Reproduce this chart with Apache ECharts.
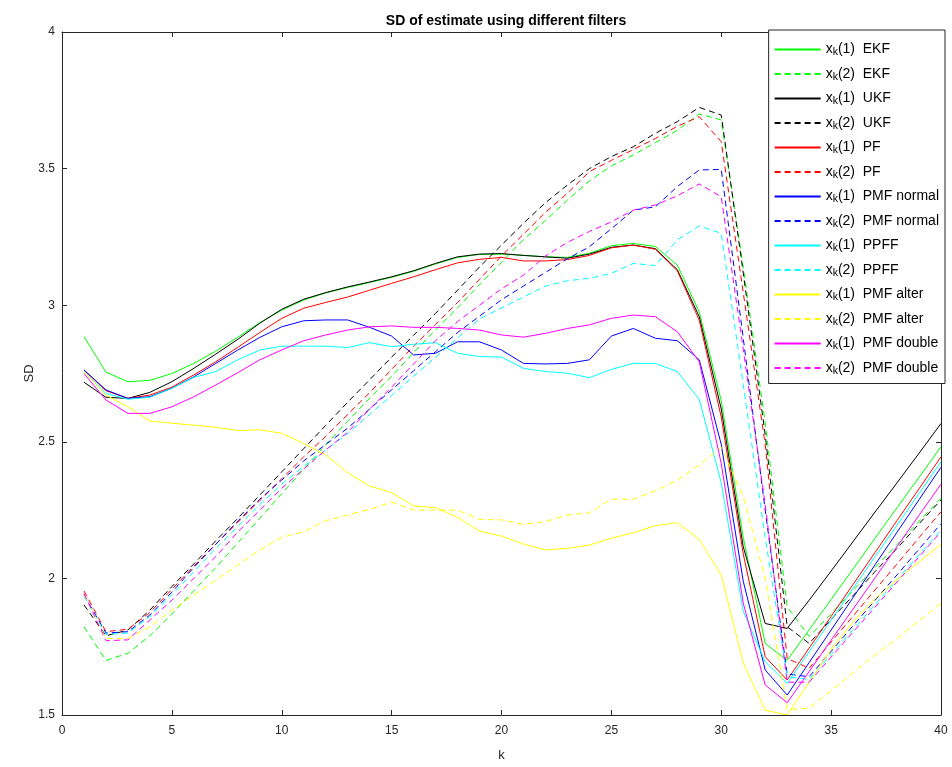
<!DOCTYPE html>
<html>
<head>
<meta charset="utf-8">
<script src="https://cdn.jsdelivr.net/npm/echarts@6/dist/echarts.min.js"></script>
<style>
html,body{margin:0;padding:0;background:#fff;}
#chart{width:952px;height:767px;}
</style>
</head>
<body>
<div id="chart"></div>
<script>
const K = [1,2,3,4,5,6,7,8,9,10,11,12,13,14,15,16,17,18,19,20,21,22,23,24,25,26,27,28,29,30,31,32,33,34,35,36,37,38,39,40];

const ekf1 = [2.885,2.755,2.72,2.725,2.75,2.787,2.832,2.883,2.936,2.982,3.019,3.045,3.065,3.083,3.102,3.124,3.151,3.175,3.186,3.187,3.183,3.177,3.175,3.19,3.218,3.226,3.215,3.147,2.975,2.65,2.15,1.762,1.70,1.812,1.923,2.035,2.147,2.259,2.37,2.482];
const ekf2 = [1.823,1.70,1.726,1.79,1.87,1.955,2.04,2.13,2.22,2.31,2.40,2.49,2.575,2.66,2.74,2.826,2.91,2.99,3.075,3.157,3.24,3.31,3.385,3.455,3.51,3.55,3.595,3.64,3.70,3.678,3.14,2.57,1.896,1.787,1.871,1.956,2.04,2.124,2.209,2.293];
const ukf1 = [2.718,2.663,2.659,2.681,2.72,2.769,2.821,2.875,2.934,2.985,3.022,3.046,3.067,3.085,3.104,3.126,3.153,3.177,3.187,3.189,3.182,3.177,3.172,3.187,3.212,3.22,3.207,3.13,2.958,2.62,2.116,1.835,1.817,1.92,2.027,2.135,2.243,2.35,2.458,2.567];
const ukf2 = [1.903,1.79,1.811,1.884,1.97,2.053,2.138,2.22,2.305,2.39,2.475,2.56,2.645,2.727,2.81,2.89,2.97,3.055,3.14,3.22,3.30,3.375,3.44,3.50,3.544,3.58,3.629,3.672,3.724,3.696,3.118,2.526,1.823,1.762,1.85,1.937,2.025,2.11,2.20,2.287];
const pf1 = [2.763,2.687,2.659,2.671,2.70,2.745,2.793,2.846,2.90,2.952,2.989,3.01,3.03,3.055,3.08,3.104,3.13,3.155,3.168,3.175,3.162,3.162,3.167,3.182,3.21,3.22,3.205,3.126,2.945,2.59,2.09,1.713,1.628,1.745,1.861,1.978,2.095,2.212,2.328,2.445];
const pf2 = [1.954,1.805,1.814,1.875,1.96,2.045,2.125,2.205,2.285,2.365,2.445,2.52,2.60,2.68,2.765,2.85,2.93,3.01,3.095,3.18,3.26,3.34,3.41,3.489,3.53,3.57,3.61,3.655,3.69,3.598,3.047,2.49,1.707,1.671,1.767,1.862,1.958,2.053,2.149,2.244];
const pmfn1 = [2.763,2.69,2.659,2.665,2.696,2.738,2.787,2.836,2.882,2.921,2.943,2.946,2.946,2.919,2.887,2.818,2.824,2.866,2.866,2.836,2.787,2.785,2.787,2.80,2.887,2.915,2.879,2.87,2.80,2.49,1.99,1.665,1.573,1.692,1.811,1.93,2.05,2.169,2.288,2.407];
const pmfn2 = [1.94,1.80,1.805,1.866,1.95,2.04,2.125,2.21,2.29,2.36,2.43,2.49,2.55,2.62,2.69,2.76,2.83,2.90,2.96,3.02,3.07,3.12,3.17,3.214,3.28,3.348,3.36,3.434,3.495,3.497,2.88,2.25,1.65,1.64,1.733,1.827,1.92,2.013,2.107,2.20];
const ppff1 = [2.757,2.677,2.656,2.663,2.696,2.736,2.757,2.80,2.836,2.85,2.85,2.85,2.845,2.863,2.848,2.857,2.863,2.824,2.812,2.81,2.769,2.757,2.751,2.735,2.765,2.787,2.787,2.757,2.655,2.35,1.88,1.695,1.616,1.732,1.848,1.964,2.08,2.195,2.311,2.427];
const ppff2 = [1.935,1.795,1.80,1.86,1.94,2.025,2.11,2.19,2.27,2.345,2.41,2.47,2.53,2.60,2.67,2.74,2.81,2.88,2.95,2.99,3.03,3.07,3.09,3.098,3.117,3.153,3.145,3.239,3.29,3.263,2.71,2.15,1.64,1.63,1.721,1.812,1.904,1.995,2.086,2.177];
const pmfa1 = [2.757,2.671,2.628,2.576,2.568,2.561,2.553,2.541,2.544,2.531,2.494,2.452,2.387,2.338,2.314,2.265,2.259,2.224,2.173,2.155,2.126,2.104,2.11,2.122,2.147,2.167,2.193,2.204,2.143,2.012,1.69,1.518,1.50,1.62,1.74,1.84,1.925,1.995,2.06,2.125];
const pmfa2 = [1.94,1.78,1.78,1.823,1.884,1.939,1.994,2.049,2.104,2.15,2.171,2.211,2.232,2.253,2.279,2.25,2.25,2.25,2.216,2.214,2.198,2.208,2.232,2.24,2.29,2.29,2.32,2.36,2.415,2.48,2.30,2.0,1.52,1.525,1.59,1.655,1.72,1.78,1.845,1.909];
const pmfd1 = [2.75,2.653,2.604,2.604,2.628,2.665,2.708,2.753,2.80,2.836,2.87,2.891,2.909,2.921,2.924,2.919,2.919,2.915,2.909,2.891,2.883,2.897,2.915,2.928,2.952,2.964,2.958,2.903,2.793,2.42,1.91,1.61,1.545,1.659,1.774,1.888,2.002,2.117,2.231,2.345];
const pmfd2 = [1.945,1.772,1.775,1.848,1.92,2.0,2.08,2.17,2.25,2.33,2.40,2.47,2.535,2.62,2.70,2.785,2.87,2.94,3.0,3.06,3.11,3.18,3.23,3.27,3.305,3.348,3.367,3.40,3.444,3.397,2.84,2.27,1.62,1.62,1.712,1.804,1.895,1.987,2.079,2.171];

const seriesNames = ['xk(1)  EKF','xk(2)  EKF','xk(1)  UKF','xk(2)  UKF','xk(1)  PF','xk(2)  PF','xk(1)  PMF normal','xk(2)  PMF normal','xk(1)  PPFF','xk(2)  PPFF','xk(1)  PMF alter','xk(2)  PMF alter','xk(1)  PMF double','xk(2)  PMF double'];
const seriesData = [ekf1,ekf2,ukf1,ukf2,pf1,pf2,pmfn1,pmfn2,ppff1,ppff2,pmfa1,pmfa2,pmfd1,pmfd2];
const seriesColors = ['#00ff00','#00ff00','#000000','#000000','#ff0000','#ff0000','#0000ff','#0000ff','#00ffff','#00ffff','#ffff00','#ffff00','#ff00ff','#ff00ff'];
const seriesDashed = [false,true,false,true,false,true,false,true,false,true,false,true,false,true];

const yTicks = [1.5,2,2.5,3,3.5,4];
const xTicks = [0,5,10,15,20,25,30,35,40];

const FONT = '"Liberation Sans", Arial, Helvetica, sans-serif';
const AX = '#262626';

const chart = echarts.init(document.getElementById('chart'), null, {renderer:'canvas'});

const series = seriesNames.map((n, i) => ({
  name: n,
  type: 'line',
  xAxisIndex: 0,
  yAxisIndex: 0,
  data: K.map((k, j) => [k, seriesData[i][j]]),
  symbol: 'none',
  showSymbol: false,
  lineStyle: {color: seriesColors[i], width: 1, type: seriesDashed[i] ? [6, 4] : 'solid'},
  itemStyle: {color: seriesColors[i]},
  emphasis: {disabled: true},
  silent: true
}));

const axisCommon = {
  axisLine: {show: true, onZero: false, lineStyle: {color: AX, width: 1}},
  axisTick: {show: true, inside: true, length: 5, lineStyle: {color: AX}},
  splitLine: {show: false}
};

chart.setOption({
  animation: false,
  backgroundColor: '#ffffff',
  title: {
    text: 'SD of estimate using different filters',
    left: 501, top: 9, textAlign: 'center',
    textStyle: {fontFamily: FONT, fontSize: 14, fontWeight: 'bold', color: '#000'}
  },
  grid: {left: 62, right: 11, top: 32, bottom: 52, containLabel: false},
  legend: {
    orient: 'vertical',
    right: 7, top: 30,
    padding: [10, 6, 7, 5],
    itemWidth: 46, itemHeight: 14, itemGap: 6.5,
    itemStyle: {opacity: 0},
    backgroundColor: '#ffffff',
    borderColor: AX, borderWidth: 1,
    selectedMode: false,
    data: seriesNames,
    formatter: n => '{b|x}{s|k}{b|' + n.slice(2) + '}',
    textStyle: {
      fontFamily: FONT, fontSize: 14, color: '#000',
      rich: {
        b: {fontFamily: FONT, fontSize: 14, color: '#000', lineHeight: 17, verticalAlign: 'middle'},
        s: {fontFamily: FONT, fontSize: 10.5, color: '#000', lineHeight: 17, verticalAlign: 'bottom', padding: [7, 0, 0, 0]}
      }
    }
  },
  xAxis: [
    Object.assign({
      type: 'value', min: xTicks[0], max: xTicks[xTicks.length-1], interval: 5, position: 'bottom',
      name: 'k', nameLocation: 'middle', nameGap: 34,
      nameTextStyle: {fontFamily: FONT, fontSize: 13, color: AX},
      axisLabel: {show: true, margin: 10, fontFamily: FONT, fontSize: 12, color: AX}
    }, axisCommon),
    Object.assign({
      type: 'value', min: 0, max: 40, interval: 5, position: 'top',
      axisLabel: {show: false}
    }, axisCommon)
  ],
  yAxis: [
    Object.assign({
      type: 'value', min: yTicks[0], max: yTicks[yTicks.length-1], interval: 0.5, position: 'left',
      name: 'SD', nameLocation: 'middle', nameGap: 26, nameMoveOverlap: false,
      nameTextStyle: {fontFamily: FONT, fontSize: 13, color: AX},
      axisLabel: {show: true, margin: 7, fontFamily: FONT, fontSize: 12, color: AX}
    }, axisCommon),
    Object.assign({
      type: 'value', min: 1.5, max: 4, interval: 0.5, position: 'right',
      axisLabel: {show: false}
    }, axisCommon)
  ],
  series: series
});
</script>
</body>
</html>
